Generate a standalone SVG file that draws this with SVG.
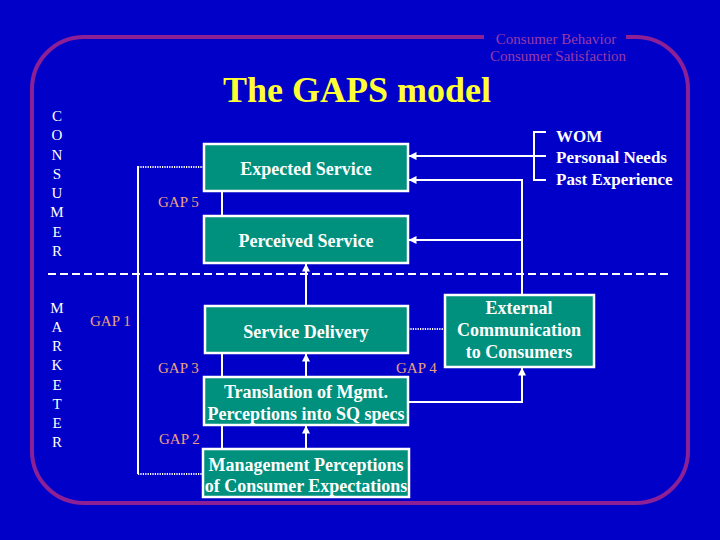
<svg xmlns="http://www.w3.org/2000/svg" width="720" height="540" viewBox="0 0 720 540">
<style>
.box{fill:#00907E;stroke:#FFFFFF;stroke-width:2.5}
.bt{font-family:"Liberation Serif",serif;font-weight:bold;font-size:18px;fill:#FFFFFF;text-anchor:middle}
.side{font-family:"Liberation Serif",serif;font-size:15px;fill:#FFFFFF;text-anchor:middle}
.gap{font-family:"Liberation Serif",serif;font-size:15px;fill:#EFA080}
.ln{stroke:#FFFFFF;stroke-width:2;fill:none}
.dot{stroke:#FFFFFF;stroke-width:2;fill:none;stroke-dasharray:1.2 1.2}
.src{font-family:"Liberation Serif",serif;font-weight:bold;font-size:17px;fill:#FFFFFF}
</style>
<defs>
<marker id="ah" viewBox="0 0 8 8" refX="7.5" refY="4" markerWidth="8" markerHeight="8" markerUnits="userSpaceOnUse" orient="auto">
<path d="M0,0 L8,4 L0,8 z" fill="#FFFFFF"/>
</marker>
</defs>
<rect x="0" y="0" width="720" height="540" fill="#0000C8"/>
<path d="M484,37 H84 A52 52 0 0 0 32 89 V451 A52 52 0 0 0 84 503 H636 A52 52 0 0 0 688 451 V89 A52 52 0 0 0 636 37 H626" fill="none" stroke="#8E2096" stroke-width="4"/>
<text x="556" y="44" font-family="Liberation Serif, serif" font-size="15" fill="#9A3AA8" text-anchor="middle">Consumer Behavior</text>
<text x="558" y="61" font-family="Liberation Serif, serif" font-size="15" fill="#9A3AA8" text-anchor="middle">Consumer Satisfaction</text>
<text x="357" y="102" font-family="Liberation Serif, serif" font-weight="bold" font-size="36" fill="#FFFF33" text-anchor="middle">The GAPS model</text>
<g id="consumer-label">
<text class="side" x="57" y="121">C</text>
<text class="side" x="57" y="140">O</text>
<text class="side" x="57" y="160">N</text>
<text class="side" x="57" y="179">S</text>
<text class="side" x="57" y="198">U</text>
<text class="side" x="57" y="217">M</text>
<text class="side" x="57" y="237">E</text>
<text class="side" x="57" y="256">R</text>
</g>
<g id="marketer-label">
<text class="side" x="57" y="313">M</text>
<text class="side" x="57" y="332">A</text>
<text class="side" x="57" y="351">R</text>
<text class="side" x="57" y="370">K</text>
<text class="side" x="57" y="390">E</text>
<text class="side" x="57" y="409">T</text>
<text class="side" x="57" y="428">E</text>
<text class="side" x="57" y="447">R</text>
</g>
<line x1="48" y1="274" x2="672" y2="274" stroke="#FFFFFF" stroke-width="2" stroke-dasharray="8 4"/>
<g id="connectors">
<path class="dot" d="M204,167 H138"/>
<path class="ln" d="M138,166 V474"/>
<path class="dot" d="M138,474 H203"/>
<path class="ln" d="M222,191 V216"/>
<path class="ln" d="M306,306 V264" marker-end="url(#ah)"/>
<path class="ln" d="M222,353 V377"/>
<path class="ln" d="M306,377 V354" marker-end="url(#ah)"/>
<path class="ln" d="M222,425 V449"/>
<path class="ln" d="M306,449 V426" marker-end="url(#ah)"/>
<path class="dot" d="M408,329 H445"/>
<path class="ln" d="M409,402 H522 V368" marker-end="url(#ah)"/>
<path class="ln" d="M522,295 V180 H409" marker-end="url(#ah)"/>
<path class="ln" d="M522,240 H409" marker-end="url(#ah)"/>
<path class="ln" d="M546,132 H534 V180 H546"/>
<path class="ln" d="M546,156 H409" marker-end="url(#ah)"/>
</g>
<g id="expected-service">
<rect class="box" x="204" y="144" width="204" height="47"/>
<text class="bt" x="306" y="175">Expected Service</text>
</g>
<g id="perceived-service">
<rect class="box" x="204" y="216" width="204" height="47"/>
<text class="bt" x="306" y="247">Perceived Service</text>
</g>
<g id="service-delivery">
<rect class="box" x="205" y="306" width="203" height="47"/>
<text class="bt" x="306" y="338">Service Delivery</text>
</g>
<g id="translation">
<rect class="box" x="204" y="377" width="204" height="48"/>
<text class="bt" x="306" y="398">Translation of Mgmt.</text>
<text class="bt" x="306" y="420">Perceptions into SQ specs</text>
</g>
<g id="management-perceptions">
<rect class="box" x="203" y="449" width="206" height="48"/>
<text class="bt" x="306" y="471">Management Perceptions</text>
<text class="bt" x="306" y="492">of Consumer Expectations</text>
</g>
<g id="external-communication">
<rect class="box" x="445" y="295" width="149" height="72"/>
<text class="bt" x="519" y="314">External</text>
<text class="bt" x="519" y="336">Communication</text>
<text class="bt" x="519" y="358">to Consumers</text>
</g>
<g id="sources">
<text class="src" x="556" y="142">WOM</text>
<text class="src" x="556" y="163">Personal Needs</text>
<text class="src" x="556" y="185">Past Experience</text>
</g>
<g id="gaps">
<text class="gap" x="158" y="207">GAP 5</text>
<text class="gap" x="90" y="326">GAP 1</text>
<text class="gap" x="158" y="373">GAP 3</text>
<text class="gap" x="396" y="373">GAP 4</text>
<text class="gap" x="159" y="444">GAP 2</text>
</g>
</svg>
